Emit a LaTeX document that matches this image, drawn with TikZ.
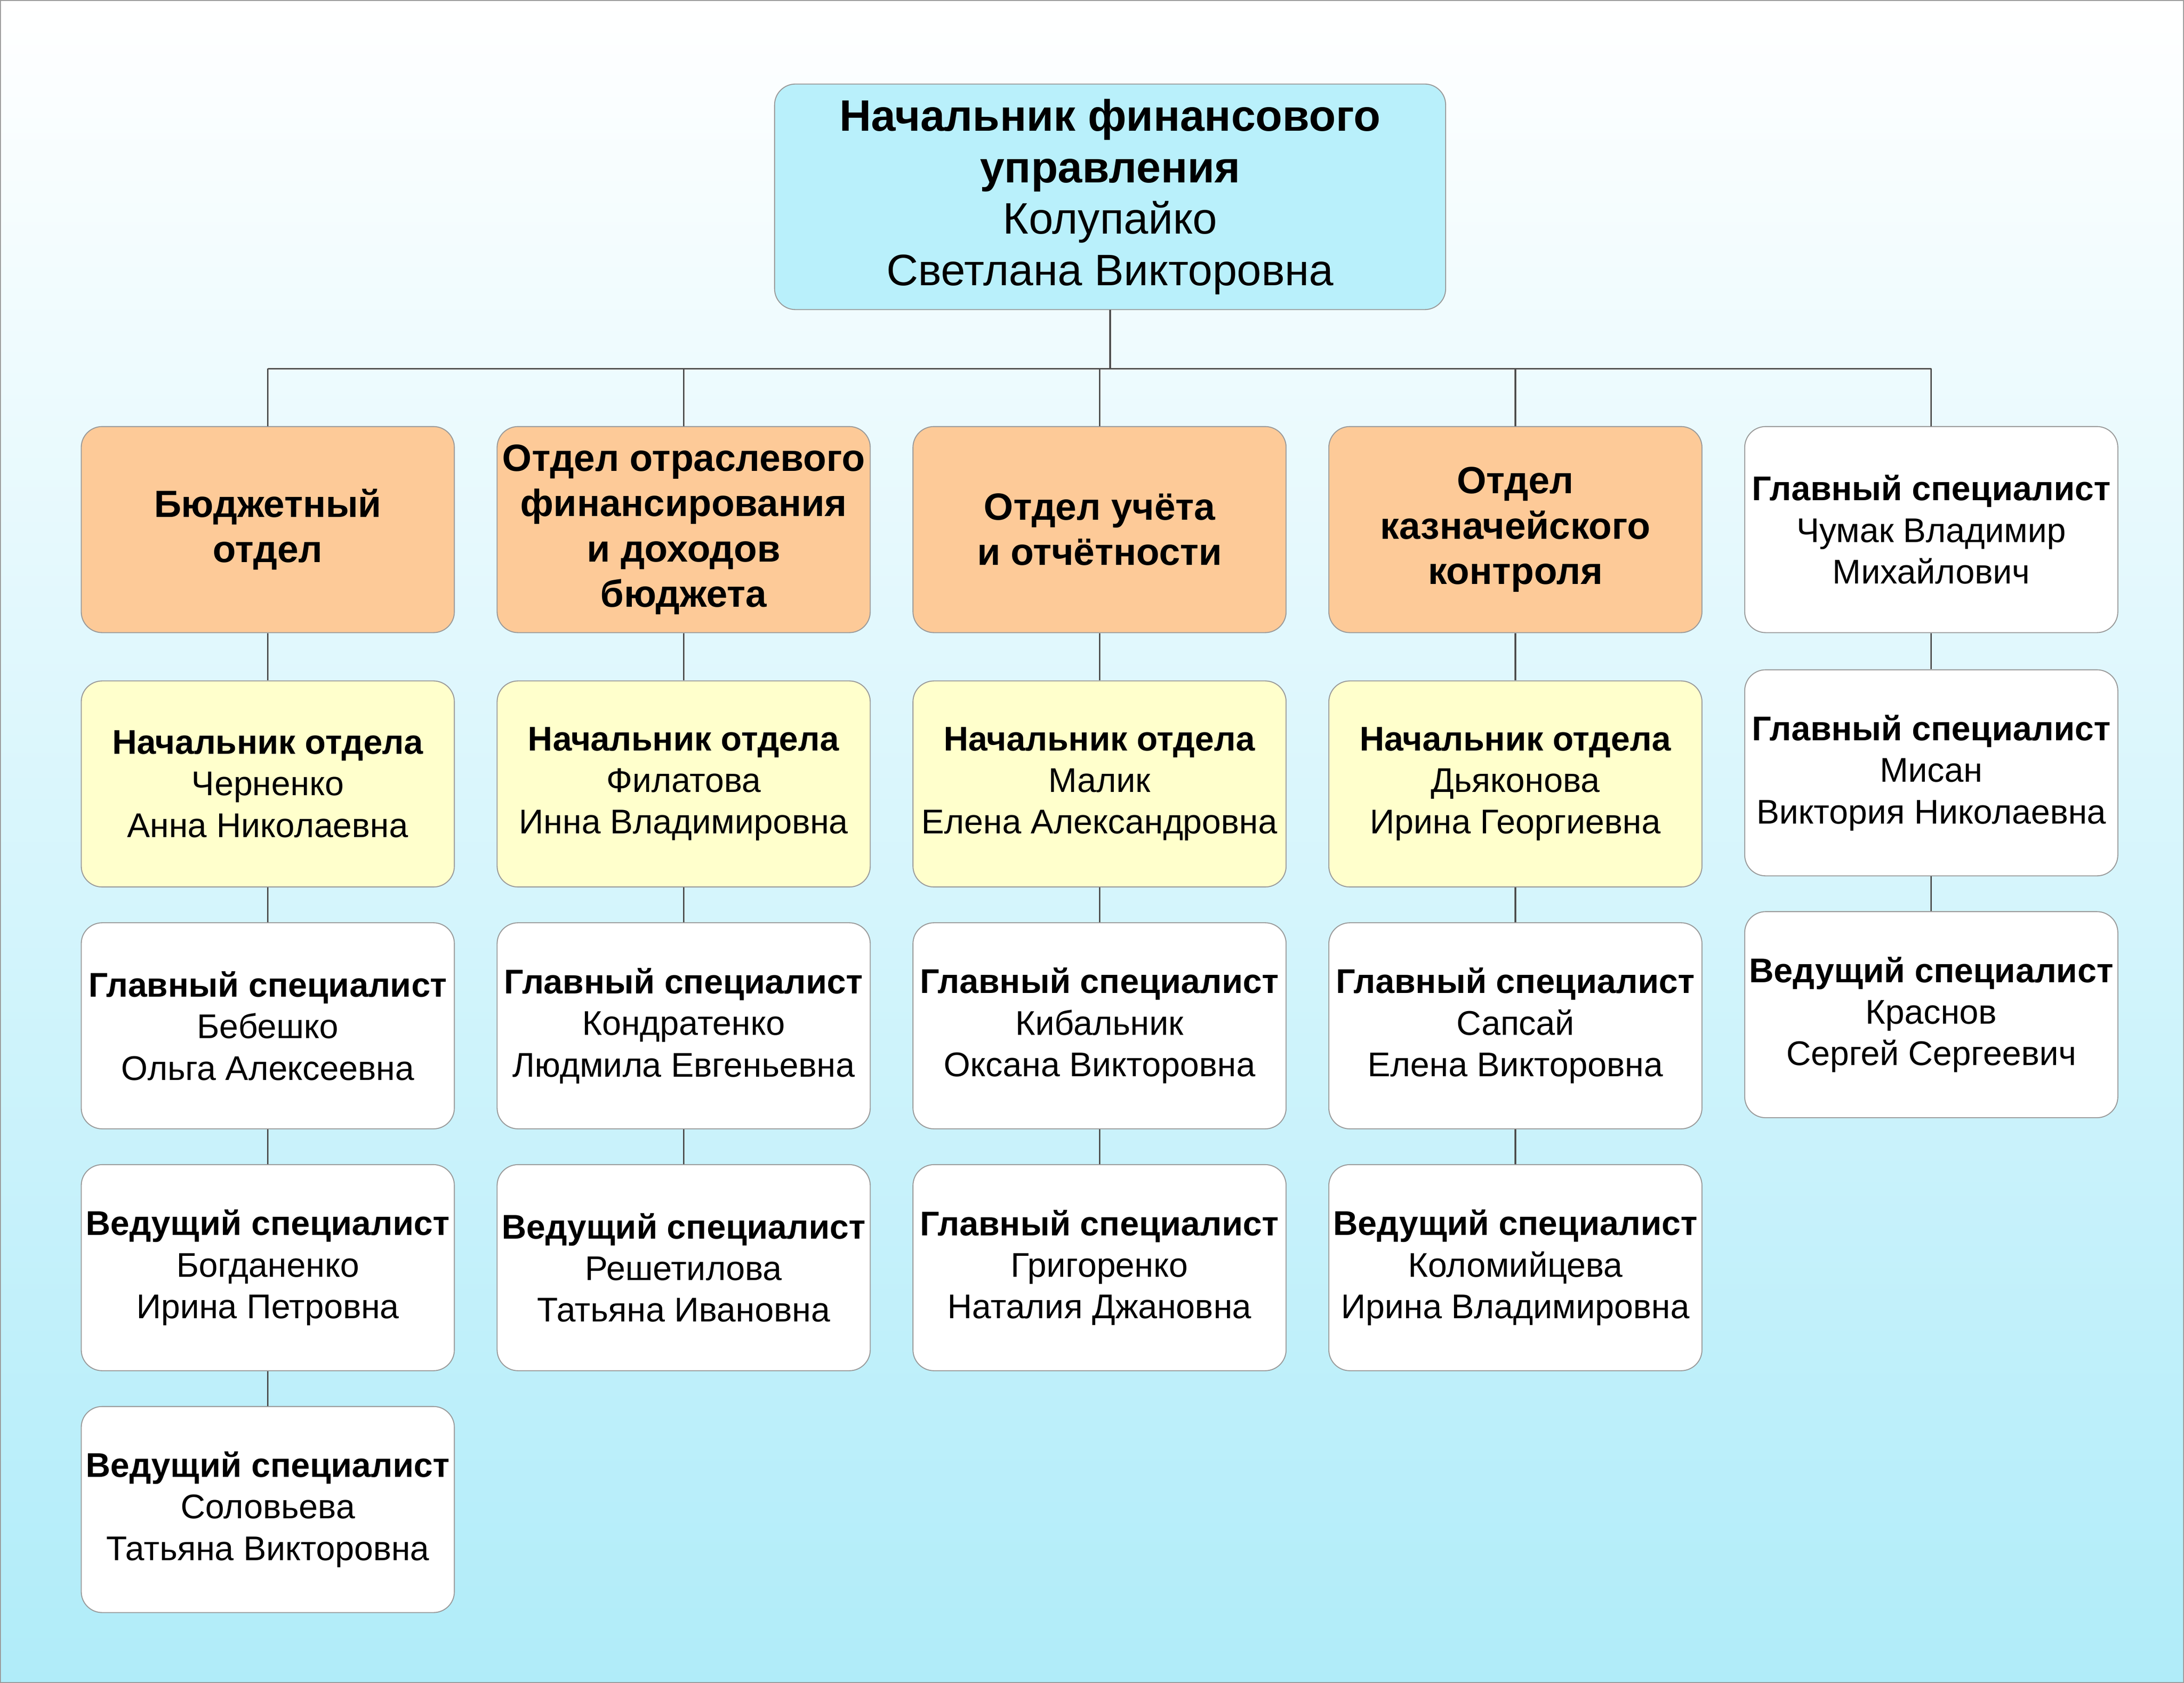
\documentclass[tikz,border=0pt]{standalone}
\usepackage{fontspec}
\setmainfont{Liberation Sans}
\usetikzlibrary{positioning,calc}
\definecolor{bgcyan}{HTML}{B0ECF9}
\definecolor{headcol}{HTML}{B9F0FB}
\definecolor{deptcol}{HTML}{FDCA98}
\definecolor{chiefcol}{HTML}{FFFFCC}
\definecolor{edgecol}{HTML}{9A9A9A}
\tikzset{
  box/.style={rectangle, rounded corners=0.3cm, draw=edgecol, fill=white, minimum width=5.36cm, minimum height=2.96cm, align=center, inner sep=1pt, font=\fontsize{14}{17}\selectfont},
  dept/.style={box, fill=deptcol, font=\fontsize{15.5}{18.5}\selectfont\bfseries},
  chief/.style={box, fill=chiefcol},
  link/.style={draw=black!70, line width=0.6pt}
}
\begin{document}
\begin{tikzpicture}[node distance=0.5cm and 0.6cm]
\shade[top color=white, bottom color=bgcyan] (0,0) rectangle (31.36,-24.16);
\draw[edgecol] (0,0) rectangle (31.36,-24.16);
\useasboundingbox (0,0) rectangle (31.36,-24.16);
% head
\node[box, fill=headcol, minimum width=9.64cm, minimum height=3.24cm, font=\fontsize{18}{21}\selectfont] (head) at (15.94,-2.82)
  {\textbf{Начальник финансового}\\\textbf{управления}\\Колупайко\\Светлана Викторовна};
% departments
\node[dept] (d1) at (3.84,-7.6) {Бюджетный\\отдел};
\node[dept, right=of d1] (d2) {Отдел отраслевого\\финансирования\\и доходов\\бюджета};
\node[dept, right=of d2] (d3) {Отдел учёта\\и отчётности};
\node[dept, right=of d3] (d4) {Отдел\\казначейского\\контроля};
\node[box, right=of d4] (d5) {\textbf{Главный специалист}\\Чумак Владимир\\Михайлович};
% column 1
\node[chief, below=0.68cm of d1] (c1) {\textbf{Начальник отдела}\\Черненко\\Анна Николаевна};
\node[box, below=of c1] (s11) {\textbf{Главный специалист}\\Бебешко\\Ольга Алексеевна};
\node[box, below=of s11] (s12) {\textbf{Ведущий специалист}\\Богданенко\\Ирина Петровна};
\node[box, below=of s12] (s13) {\textbf{Ведущий специалист}\\Соловьева\\Татьяна Викторовна};
% column 2
\node[chief, below=0.68cm of d2] (c2) {\textbf{Начальник отдела}\\Филатова\\Инна Владимировна};
\node[box, below=of c2] (s21) {\textbf{Главный специалист}\\Кондратенко\\Людмила Евгеньевна};
\node[box, below=of s21] (s22) {\textbf{Ведущий специалист}\\Решетилова\\Татьяна Ивановна};
% column 3
\node[chief, below=0.68cm of d3] (c3) {\textbf{Начальник отдела}\\Малик\\Елена Александровна};
\node[box, below=of c3] (s31) {\textbf{Главный специалист}\\Кибальник\\Оксана Викторовна};
\node[box, below=of s31] (s32) {\textbf{Главный специалист}\\Григоренко\\Наталия Джановна};
% column 4
\node[chief, below=0.68cm of d4] (c4) {\textbf{Начальник отдела}\\Дьяконова\\Ирина Георгиевна};
\node[box, below=of c4] (s41) {\textbf{Главный специалист}\\Сапсай\\Елена Викторовна};
\node[box, below=of s41] (s42) {\textbf{Ведущий специалист}\\Коломийцева\\Ирина Владимировна};
% column 5
\node[box, below=0.52cm of d5] (s51) {\textbf{Главный специалист}\\Мисан\\Виктория Николаевна};
\node[box, below=of s51] (s52) {\textbf{Ведущий специалист}\\Краснов\\Сергей Сергеевич};
% connectors
\draw[link] (head.south) -- ++(0,-0.84) coordinate (bus);
\draw[link] (bus -| d1.north) -- (bus -| d5.north);
\foreach \n in {d1,d2,d3,d4,d5}
  \draw[link] (bus -| \n.north) -- (\n.north);
\foreach \a/\b in {d1/c1,c1/s11,s11/s12,s12/s13,d2/c2,c2/s21,s21/s22,d3/c3,c3/s31,s31/s32,d4/c4,c4/s41,s41/s42,d5/s51,s51/s52}
  \draw[link] (\a) -- (\b);
\end{tikzpicture}
\end{document}
